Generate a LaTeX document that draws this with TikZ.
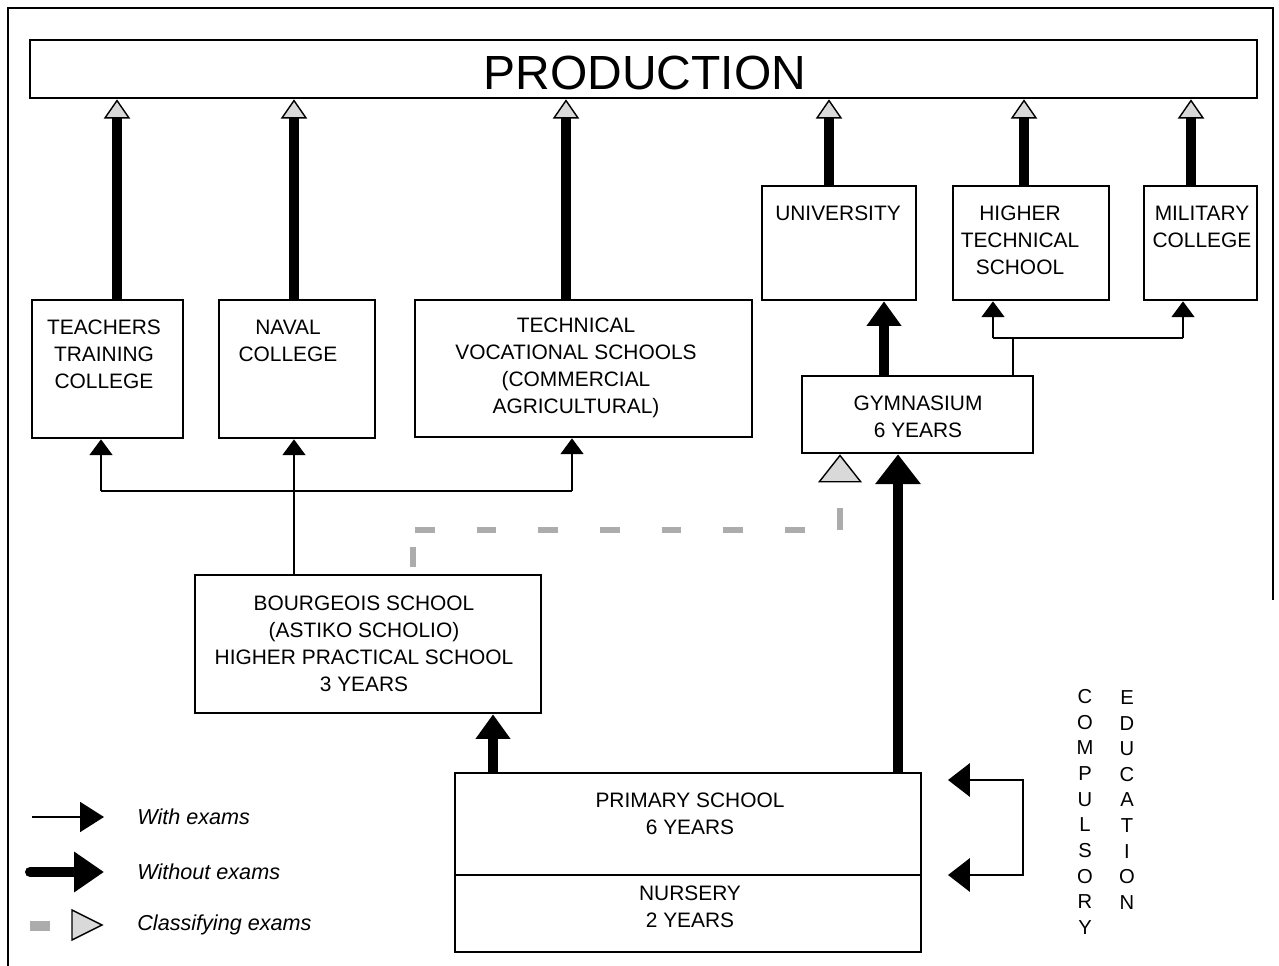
\documentclass[tikz,border=0pt]{standalone}
\usepackage{fontspec}
\setmainfont{Liberation Sans}
\usetikzlibrary{arrows.meta,fit,calc}
\begin{document}
\begin{tikzpicture}[x=0.02cm,y=-0.02cm,
  box/.style={draw, line width=1.5pt, inner sep=0pt},
  txt/.style={font=\fontsize{11.9pt}{15.3pt}\selectfont, align=center, inner sep=0pt},
  legtxt/.style={font=\fontsize{12.3pt}{15pt}\selectfont\itshape, anchor=west, inner sep=0pt},
  vert/.style={font=\fontsize{11.5pt}{14.6pt}\selectfont, align=center, inner sep=0pt},
  prodarr/.style={line width=5.3pt, -{Triangle[length=11pt,width=15pt,line width=0.8pt,fill=gray!30]}},
  thickarr/.style={line width=5.3pt, -{Triangle[length=14pt,width=19pt]}},
  bigarr/.style={line width=5.7pt, -{Triangle[length=17pt,width=25pt]}},
  thinarr/.style={line width=1.1pt, -{Triangle[length=9pt,width=13pt]}},
  thinline/.style={line width=1.1pt},
  clsdash/.style={line width=3.6pt, draw=gray!65}
]
\useasboundingbox (0,0) rectangle (1279,966);
% outer frame
\draw[line width=1.5pt] (8,966) -- (8,8) -- (1273,8) -- (1273,600);

% boxes
\node[box, fit={(30,40) (1257,98)}] (prod) {};
\node[font=\fontsize{27.3pt}{30pt}\selectfont, inner sep=0pt] (prodT) at (645,73) {PRODUCTION};

\node[box, fit={(32,300) (183,438)}] (teach) {};
\node[txt] (teachT) at (104,354) {TEACHERS\\TRAINING\\COLLEGE};

\node[box, fit={(219,300) (375,438)}] (naval) {};
\node[txt] (navalT) at (288,341) {NAVAL\\COLLEGE};

\node[box, fit={(415,300) (752,437)}] (tech) {};
\node[txt] (techT) at (576,368) {TECHNICAL\\VOCATIONAL SCHOOLS\\(COMMERCIAL\\AGRICULTURAL)};

\node[box, fit={(762,186) (916,300)}] (univ) {};
\node[txt] (univT) at (838,213) {UNIVERSITY};

\node[box, fit={(953,186) (1109,300)}] (htech) {};
\node[txt] (htechT) at (1020,240) {HIGHER\\TECHNICAL\\SCHOOL};

\node[box, fit={(1144,186) (1257,300)}] (mil) {};
\node[txt] (milT) at (1202,227) {MILITARY\\COLLEGE};

\node[box, fit={(802,376) (1033,453)}] (gym) {};
\node[txt] (gymT) at (918,417) {GYMNASIUM\\6 YEARS};

\node[box, fit={(195,575) (541,713)}] (bour) {};
\node[txt] (bourT) at (364,644) {BOURGEOIS SCHOOL\\(ASTIKO SCHOLIO)\\HIGHER PRACTICAL SCHOOL\\3 YEARS};

\node[box, fit={(455,773) (921,952)}] (prim) {};
\draw[line width=1.5pt] (prim.west |- 0,875) -- (prim.east |- 0,875);
\node[txt] (primT) at (690,814) {PRIMARY SCHOOL\\6 YEARS};
\node[txt] (nursT) at (690,907) {NURSERY\\2 YEARS};

% arrows to production
\draw[prodarr] (teach.north -| 117,0) -- (prod.south -| 117,0);
\draw[prodarr] (naval.north -| 294,0) -- (prod.south -| 294,0);
\draw[prodarr] (tech.north -| 566,0) -- (prod.south -| 566,0);
\draw[prodarr] (univ.north -| 829,0) -- (prod.south -| 829,0);
\draw[prodarr] (htech.north -| 1024,0) -- (prod.south -| 1024,0);
\draw[prodarr] (mil.north -| 1191,0) -- (prod.south -| 1191,0);

% gymnasium connections
\draw[thickarr] (gym.north -| 884,0) -- (univ.south -| 884,0);
\coordinate (jH) at (993,338);
\coordinate (jM) at (1183,338);
\draw[thinline] (gym.north -| 1013,0) -- (jH -| 1013,0);
\draw[thinline] (jH) -- (jM);
\draw[thinarr] (jH) -- (htech.south -| jH);
\draw[thinarr] (jM) -- (mil.south -| jM);

% primary connections
\draw[bigarr] (prim.north -| 898,0) -- (gym.south -| 898,0);
\draw[thickarr] (prim.north -| 493,0) -- (bour.south -| 493,0);

% bourgeois connections
\coordinate (jL) at (101,491);
\coordinate (jR) at (572,491);
\draw[thinline] (jL) -- (jR);
\draw[thinarr] (jL) -- (teach.south -| jL);
\draw[thinarr] (jR) -- (tech.south -| jR);
\draw[thinarr] (bour.north -| 294,0) -- (naval.south -| 294,0);

% classifying exams (dotted)
\coordinate (dA) at (413,530);
\coordinate (dB) at (840,530);
\draw[clsdash, dash pattern=on 11.3pt off 23.8pt, dash phase=31.2pt] (bour.north -| dA) -- (dA);
\draw[clsdash, dash pattern=on 11.3pt off 23.8pt, dash phase=34pt] (dA) -- (dB);
\draw[clsdash, dash pattern=on 12.5pt off 23.8pt, -{Triangle[length=16pt,width=25pt,line width=0.8pt,color=black,fill=gray!30]}] (dB) -- (gym.south -| dB);

% compulsory education bracket
\coordinate (cA) at (948,780);
\coordinate (cB) at (948,875);
\coordinate (cC) at (1023,780);
\coordinate (cD) at (1023,875);
\draw[line width=1.3pt, {Triangle[length=12.5pt,width=19pt]}-{Triangle[length=12.5pt,width=19pt]}] (cA) -- (cC) -- (cD) -- (cB);
\node[vert] (compT) at (1085,812) {C\\O\\M\\P\\U\\L\\S\\O\\R\\Y};
\node[vert] (eduT) at (1127,800) {E\\D\\U\\C\\A\\T\\I\\O\\N};

% legend
\coordinate (lw1) at (32,817);
\coordinate (lw2) at (104,817);
\draw[line width=1.1pt, -{Triangle[length=13.6pt,width=17pt]}] (lw1) -- (lw2);
\coordinate (lt1) at (30,872);
\coordinate (lt2) at (104,872);
\draw[line width=5.7pt, line cap=round, -{Triangle[length=17pt,width=22pt]}] (lt1) -- (lt2);
\fill[gray!65] (30,921) rectangle (50,931);
\draw[line width=0.8pt, fill=gray!30] (72,910) -- (102,925) -- (72,940) -- cycle;
\node[legtxt] (lg1) at (137,817) {With exams};
\node[legtxt] (lg2) at (137,872) {Without exams};
\node[legtxt] (lg3) at (137,925) {Classifying exams};
\end{tikzpicture}
\end{document}
